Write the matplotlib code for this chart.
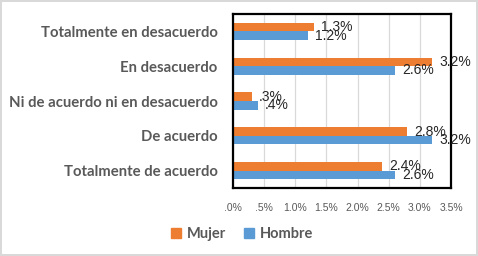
import matplotlib
matplotlib.use('Agg')
import matplotlib.pyplot as plt
from matplotlib.patches import Patch

# data (percent)
categories = ['Totalmente en desacuerdo', 'En desacuerdo', 'Ni de acuerdo ni en desacuerdo',
              'De acuerdo', 'Totalmente de acuerdo']
mujer = [1.3, 3.2, 0.3, 2.8, 2.4]
hombre = [1.2, 2.6, 0.4, 3.2, 2.6]
mujer_labels = ['1.3%', '3.2%', '.3%', '2.8%', '2.4%']
hombre_labels = ['1.2%', '2.6%', '.4%', '3.2%', '2.6%']
x_ticks = [0, 0.5, 1.0, 1.5, 2.0, 2.5, 3.0, 3.5]
x_ticklabels = ['.0%', '.5%', '1.0%', '1.5%', '2.0%', '2.5%', '3.0%', '3.5%']

orange = '#ED7D31'
blue = '#5B9BD5'
gray_text = '#595959'
font = 'Lato'

fig = plt.figure(figsize=(4.78, 2.56), dpi=100)
fig.patch.set_edgecolor('#D9D9D9')
fig.patch.set_linewidth(1.5)
ax = fig.add_axes([0.4874, 0.2656, 0.4561, 0.6797])

h = 0.245
pos = list(range(len(categories)))
ax.barh([p - h / 2 for p in pos], mujer, height=h, color=orange, label='Mujer', zorder=2)
ax.barh([p + h / 2 for p in pos], hombre, height=h, color=blue, label='Hombre', zorder=2)

for i in pos:
    ax.annotate(mujer_labels[i], (mujer[i], i - h / 2), xytext=(5, 0), textcoords='offset points',
                va='center', ha='left', fontsize=10, family='Liberation Sans', color='#262626',
                annotation_clip=False, zorder=5)
    ax.annotate(hombre_labels[i], (hombre[i], i + h / 2), xytext=(5, 0), textcoords='offset points',
                va='center', ha='left', fontsize=10, family='Liberation Sans', color='#262626',
                annotation_clip=False, zorder=5)

ax.set_xlim(0, 3.5)
ax.set_ylim(len(categories) - 0.5, -0.5)
ax.set_xticks(x_ticks)
ax.set_xticklabels(x_ticklabels, fontsize=7.5, family='Liberation Sans', color=gray_text)
ax.set_yticks(pos)
ax.set_yticklabels(categories, fontsize=10.7, family=font, fontweight='bold', color=gray_text)
ax.tick_params(axis='both', length=0)
ax.tick_params(axis='y', pad=11)
ax.tick_params(axis='x', pad=11)
ax.grid(axis='x', color='#D9D9D9', linewidth=0.9, zorder=0)
ax.set_axisbelow(True)
for s in ax.spines.values():
    s.set_color('black')
    s.set_linewidth(1.6)
    s.set_zorder(3)

handles = [Patch(color=orange, label='Mujer'), Patch(color=blue, label='Hombre')]
fig.legend(handles=handles, loc='center', bbox_to_anchor=(0.506, 0.086), ncol=2, frameon=False,
           prop={'family': font, 'weight': 'bold', 'size': 10.5}, labelcolor=gray_text,
           handlelength=0.7, handleheight=0.7, handletextpad=0.4, columnspacing=1.2)

fig.savefig('out.png', dpi=100)
